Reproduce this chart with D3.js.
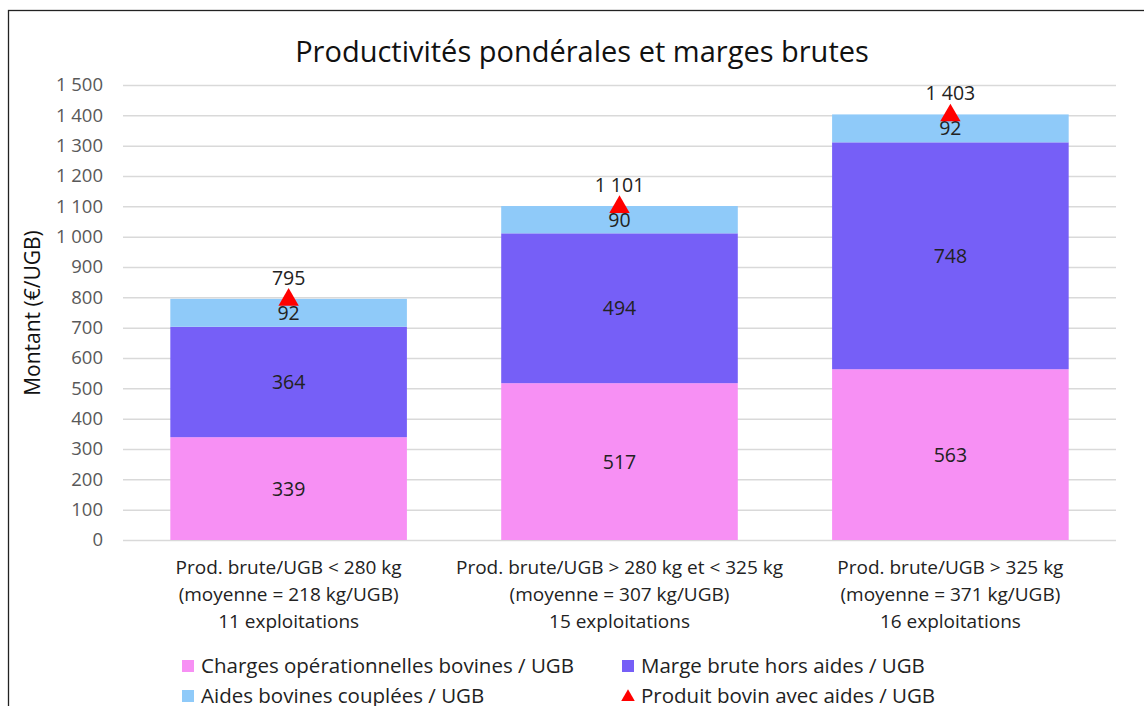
<!DOCTYPE html>
<html>
<head>
<meta charset="utf-8">
<script src="https://cdn.jsdelivr.net/npm/d3@7"></script>
<style>
  body { margin: 0; background: #fff; }
  text { font-family: "Open Sans", sans-serif; }
</style>
</head>
<body>
<script>
let width = 1144
let height = 706

// data
let categories = [
    ["Prod. brute/UGB < 280 kg", "(moyenne = 218 kg/UGB)", "11 exploitations"],
    ["Prod. brute/UGB > 280 kg et < 325 kg", "(moyenne = 307 kg/UGB)", "15 exploitations"],
    ["Prod. brute/UGB > 325 kg", "(moyenne = 371 kg/UGB)", "16 exploitations"]
]
let charges = [339, 517, 563]
let marge = [364, 494, 748]
let aides = [92, 90, 92]
let produit = [795, 1101, 1403]
let yTicks = [0, 100, 200, 300, 400, 500, 600, 700, 800, 900, 1000, 1100, 1200, 1300, 1400, 1500]

let seriesNames = ["Charges opérationnelles bovines / UGB", "Marge brute hors aides / UGB", "Aides bovines couplées / UGB", "Produit bovin avec aides / UGB"]
let colors = ["#F790F4", "#765FF7", "#8FCAF9"]

let fmt = v => d3.format(",")(v).replace(/,/g, " ")

let x = d3.scaleBand()
    .domain(d3.range(categories.length))
    .range([123, 1116])
    .paddingInner(0.285)
    .paddingOuter(0.143)

let y = d3.scaleLinear().domain([0, 1500]).range([540, 85])

let svg = d3.select('body').append('svg')
    .attr('width', width)
    .attr('height', height)

// frame
svg.append('rect')
    .attr('x', 8.5).attr('y', 10.5)
    .attr('width', 1140).attr('height', 720)
    .attr('fill', '#fff').attr('stroke', '#222').attr('stroke-width', 1.3)

svg.append('text')
    .attr('x', 582).attr('y', 62)
    .attr('text-anchor', 'middle')
    .attr('font-size', 29)
    .attr('fill', '#111')
    .text("Productivités pondérales et marges brutes")

// grid + y labels
let yAxis = d3.axisLeft(y).tickValues(yTicks).tickSize(-(1116 - 123)).tickFormat(fmt).tickPadding(20)
let gy = svg.append('g').attr('transform', 'translate(123,0)').call(yAxis)
gy.select('.domain').remove()
gy.selectAll('.tick line').attr('stroke', '#D9D9D9').attr('stroke-width', 1.5)
gy.selectAll('.tick text')
    .attr('fill', '#595959')
    .attr('font-size', 18.5)
    .attr('font-family', '"Open Sans", sans-serif')

svg.append('text')
    .attr('transform', 'translate(40,313) rotate(-90)')
    .attr('text-anchor', 'middle')
    .attr('font-size', 21)
    .attr('fill', '#111')
    .text("Montant (€/UGB)")

// stacked bars
let rows = categories.map((c, i) => ({ i: i, charges: charges[i], marge: marge[i], aides: aides[i] }))
let stack = d3.stack().keys(["charges", "marge", "aides"])(rows)

let layers = svg.selectAll('.layer')
    .data(stack)
    .enter().append('g')
    .attr('class', 'layer')
    .attr('fill', (d, k) => colors[k])

layers.selectAll('rect')
    .data(d => d)
    .enter().append('rect')
    .attr('x', d => x(d.data.i))
    .attr('width', x.bandwidth())
    .attr('y', d => y(d[1]))
    .attr('height', d => y(d[0]) - y(d[1]))

// product markers
svg.selectAll('.marker')
    .data(produit)
    .enter().append('path')
    .attr('class', 'marker')
    .attr('d', d3.symbol(d3.symbolTriangle, 180))
    .attr('transform', (d, i) => 'translate(' + (x(i) + x.bandwidth() / 2) + ',' + (y(d) + 1) + ')')
    .attr('fill', '#FF0000')

// segment labels
layers.selectAll('text')
    .data(d => d)
    .enter().append('text')
    .attr('x', d => x(d.data.i) + x.bandwidth() / 2)
    .attr('y', d => (y(d[0]) + y(d[1])) / 2 + 7)
    .attr('text-anchor', 'middle')
    .attr('font-size', 19.5)
    .attr('fill', '#222')
    .text(d => d[1] - d[0])

svg.selectAll('.total')
    .data(produit)
    .enter().append('text')
    .attr('x', (d, i) => x(i) + x.bandwidth() / 2)
    .attr('y', d => y(d) - 14)
    .attr('text-anchor', 'middle')
    .attr('font-size', 19.5)
    .attr('fill', '#222')
    .text(fmt)

// category labels
let cat = svg.selectAll('.cat')
    .data(categories)
    .enter().append('text')
    .attr('class', 'cat')
    .attr('text-anchor', 'middle')
    .attr('font-size', 19)
    .attr('font-family', 'Lato, sans-serif')
    .attr('fill', '#222')

cat.selectAll('tspan')
    .data((d, i) => d.map(t => ({ t: t, i: i })))
    .enter().append('tspan')
    .attr('x', d => x(d.i) + x.bandwidth() / 2)
    .attr('y', (d, j) => 574 + j * 27)
    .text(d => d.t)

// legend
let legendPos = [[182, 666], [622, 666], [182, 696], [622, 696]]
let legend = svg.selectAll('.legend')
    .data(seriesNames)
    .enter().append('g')
    .attr('class', 'legend')
    .attr('transform', (d, i) => 'translate(' + legendPos[i][0] + ',' + legendPos[i][1] + ')')

legend.each(function (d, i) {
    let g = d3.select(this)
    if (i < 3) {
        g.append('rect').attr('x', 0).attr('y', -6).attr('width', 12).attr('height', 12).attr('fill', colors[i])
    } else {
        g.append('path').attr('d', d3.symbol(d3.symbolTriangle, 80)).attr('transform', 'translate(6,1)').attr('fill', '#FF0000')
    }
    g.append('text').attr('x', 19).attr('y', 7)
        .attr('font-size', 20.5)
        .attr('fill', '#222')
        .text(d)
})
</script>
</body>
</html>
